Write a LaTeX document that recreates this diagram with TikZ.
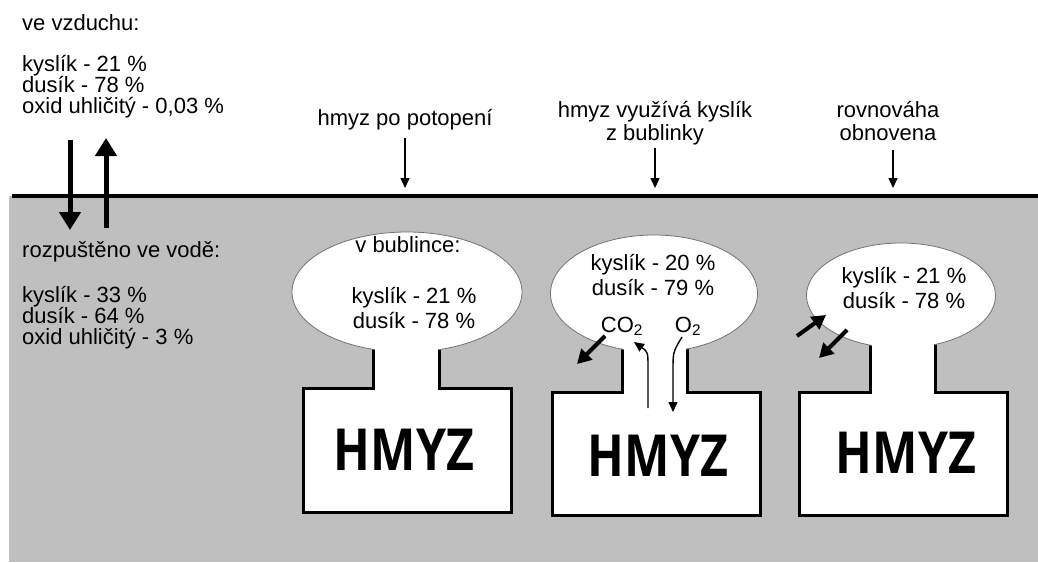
\documentclass[tikz,border=0pt]{standalone}
\usepackage{fontspec}
\setmainfont{Liberation Sans}
\newfontfamily\hmyzfont[FakeStretch=0.83]{Open Sans}
\usetikzlibrary{arrows.meta,shapes.geometric}
\definecolor{water}{gray}{0.75}
\tikzset{
  txt/.style={font=\fontsize{22}{21}\selectfont, inner sep=0pt, anchor=base west, align=left},
  head/.style={font=\fontsize{22}{23}\selectfont, inner sep=0pt, anchor=base, align=center},
  gas/.style={font=\fontsize{22}{25}\selectfont, inner sep=0pt, anchor=base, align=center},
  hmyz/.style={font=\hmyzfont\bfseries\fontsize{58}{58}\selectfont, inner sep=0pt, anchor=base},
  body/.style={fill=white, draw=black, line width=3pt, line join=miter},
  bubble/.style={ellipse, fill=white, draw=black!55, line width=0.8pt, inner sep=0pt},
  surface/.style={line width=3.5pt},
  thin arrow/.style={line width=1.4pt, -{Triangle[width=9pt,length=10pt]}},
  fat arrow/.style={line width=5pt, -{Triangle[width=21pt,length=18pt]}},
  gas arrow/.style={line width=4pt, -{Triangle[width=15pt,length=14pt]}}
}
\begin{document}
\begin{tikzpicture}[x=1pt,y=-1pt]
  \useasboundingbox (0,0) rectangle (1038,562);
  % voda a hladina
  \fill[water] (9,196) rectangle (1038,562);
  \draw[surface] (12,196) -- (1038,196);

  % vzduch / voda (base = posledni radek)
  \node[txt] (air) at (22,30) {ve vzduchu:};
  \node[txt] (airgas) at (22,113) {kyslík - 21 \%\\dusík - 78 \%\\oxid uhličitý - 0,03 \%};
  \node[txt] (wat) at (22,257) {rozpuštěno ve vodě:};
  \node[txt] (watgas) at (22,344) {kyslík - 33 \%\\dusík - 64 \%\\oxid uhličitý - 3 \%};
  \coordinate (down1) at (70,140);
  \coordinate (down2) at (70,230);
  \coordinate (up1) at (106,228);
  \coordinate (up2) at (106,138);
  \draw[fat arrow] (down1) -- (down2);
  \draw[fat arrow] (up1) -- (up2);

  % popisky nad hladinou
  \node[head] (h1) at (405,125) {hmyz po potopení};
  \node[head] (h2) at (655,140) {hmyz využívá kyslík\\z bublinky};
  \node[head] (h3) at (888,140) {rovnováha\\obnovena};
  \coordinate (s1) at (405,188);
  \coordinate (s2) at (655,188);
  \coordinate (s3) at (893,188);
  \draw[thin arrow, shorten <=8pt] (h1.south) -- (s1);
  \draw[thin arrow, shorten <=3pt] (h2.south) -- (s2);
  \draw[thin arrow, shorten <=10pt] (h3.south -| s3) -- (s3);

  % hmyz 1
  \draw[body] (373,292) -- (373,388) -- (303,388) -- (303,512) -- (511,512) -- (511,388) -- (439,388) -- (439,292);
  \node[bubble, minimum width=230, minimum height=120] (b1) at (407,292) {};
  \fill[white] (374.5,335) rectangle (437.5,395);
  \node[gas] (g1a) at (408,252) {v bublince:};
  \node[gas] (g1b) at (414,328) {kyslík - 21 \%\\dusík - 78 \%};
  \node[hmyz] (i1) at (404,470) {HMYZ};

  % hmyz 2
  \draw[body] (622,293) -- (622,392) -- (552,392) -- (552,515) -- (760,515) -- (760,392) -- (687,392) -- (687,293);
  \node[bubble, minimum width=207, minimum height=117] (b2) at (654,293.5) {};
  \fill[white] (623.5,340) rectangle (685.5,398);
  \node[gas] (g2) at (653,295) {kyslík - 20 \%\\dusík - 79 \%};
  \node[hmyz] (i2) at (658,476) {HMYZ};
  \node[gas] (co2) at (622,332) {CO\textsubscript{2}};
  \node[gas] (o2) at (688,332) {O\textsubscript{2}};
  \coordinate (c1) at (605,336);
  \coordinate (c2) at (577,364);
  \coordinate (t1) at (648,408);
  \coordinate (t2) at (634,342);
  \coordinate (o1) at (682,337);
  \coordinate (o3) at (673,412);
  \draw[gas arrow] (c1) -- (c2);
  \draw[thin arrow] (t1) -- (648,368) .. controls (648,352) .. (t2);
  \draw[thin arrow] (o1) .. controls (673,352) .. (673,370) -- (o3);

  % hmyz 3
  \draw[body] (870,295) -- (870,392) -- (799,392) -- (799,515) -- (1007,515) -- (1007,392) -- (935,392) -- (935,295);
  \node[bubble, minimum width=189, minimum height=105] (b3) at (901,295.5) {};
  \fill[white] (871.5,338) rectangle (933.5,398);
  \node[gas] (g3) at (904,308) {kyslík - 21 \%\\dusík - 78 \%};
  \node[hmyz] (i3) at (906,473) {HMYZ};
  \coordinate (e1) at (797,336);
  \coordinate (e2) at (826,315);
  \coordinate (e3) at (847,330);
  \coordinate (e4) at (819,358);
  \draw[gas arrow] (e1) -- (e2);
  \draw[gas arrow] (e3) -- (e4);
\end{tikzpicture}
\end{document}
